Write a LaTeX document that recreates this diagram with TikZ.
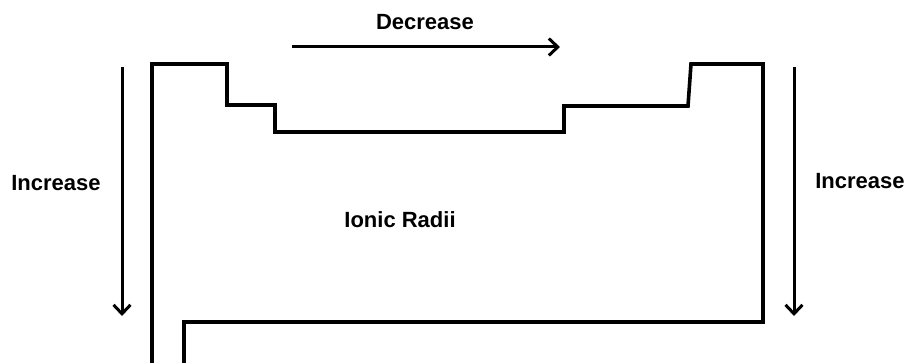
\documentclass[tikz,border=0pt]{standalone}
\usepackage{fontspec}
\setmainfont{Liberation Sans}
\usetikzlibrary{arrows.meta}
\begin{document}
\begin{tikzpicture}[x=1pt,y=-1pt,
  outline/.style={line width=3.6pt,line join=miter},
  trend/.style={line width=3pt,-{Straight Barb[length=9pt,width=17pt,line width=3pt]}},
  lbl/.style={font=\fontsize{22}{24}\selectfont\bfseries,inner sep=0pt,anchor=center}]
\useasboundingbox (0,0) rectangle (906,363);
\fill[white] (0,0) rectangle (906,363);
% table outline
\draw[outline] (152,365) -- (152,64) -- (227,64) -- (227,105) -- (275,105) -- (275,132)
  -- (564,132) -- (564,106) -- (688,106) -- (691,64) -- (763,64) -- (763,322)
  -- (184,322) -- (184,365);
% arrows
\coordinate (dL) at (292,47);
\coordinate (dR) at (560,47);
\coordinate (lT) at (122,67);
\coordinate (lB) at (122,316);
\coordinate (rT) at (794,67);
\coordinate (rB) at (794,316);
\draw[trend] (dL) -- (dR);
\draw[trend] (lT) -- (lB);
\draw[trend] (rT) -- (rB);
% labels
\node[lbl] (dec) at (425,22) {Decrease};
\node[lbl] (incL) at (56,183) {Increase};
\node[lbl] (incR) at (860,181) {Increase};
\node[lbl] (ion) at (400,220) {Ionic Radii};
\end{tikzpicture}
\end{document}
